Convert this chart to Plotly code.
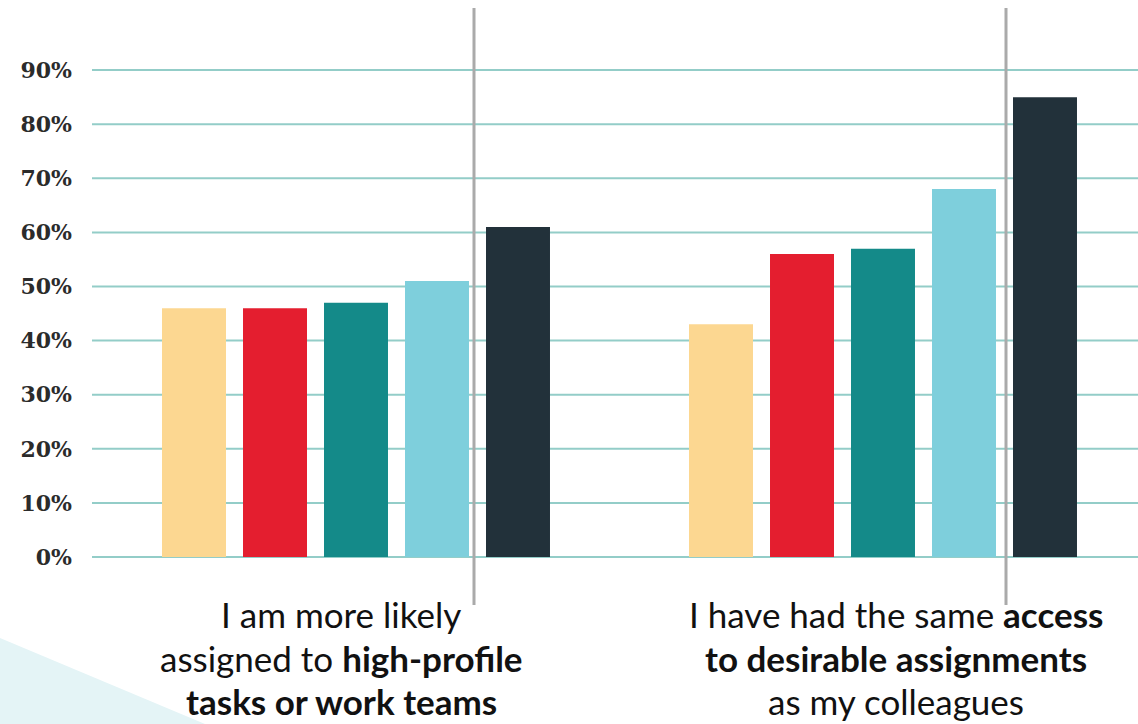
import plotly.graph_objects as go

# Survey statements (two groups) and the five respondent segments
statements = [0, 1]
segment_names = ["Segment A", "Segment B", "Segment C", "Segment D", "Segment E"]
segment_colors = ["#fcd791", "#e41e2f", "#148a89", "#7ecfdc", "#22313a"]

# Share agreeing (%) per segment, for each statement
seg_a = [46, 43]
seg_b = [46, 56]
seg_c = [47, 57]
seg_d = [51, 68]
seg_e = [61, 85]
series = [seg_a, seg_b, seg_c, seg_d, seg_e]

tick_vals = [0, 10, 20, 30, 40, 50, 60, 70, 80, 90]
tick_text = ["0%", "10%", "20%", "30%", "40%", "50%", "60%", "70%", "80%", "90%"]

label_lines = [
    ["I am more likely", "assigned to <b>high-profile</b>", "<b>tasks or work teams</b>"],
    ["I have had the same <b>access</b>", "<b>to desirable assignments</b>", "as my colleagues"],
]

fig = go.Figure()
for name, color, vals in zip(segment_names, segment_colors, series):
    fig.add_trace(go.Bar(
        x=statements, y=vals, name=name,
        marker=dict(color=color, line=dict(width=0)),
        showlegend=False, hoverinfo="skip",
    ))

W, H = 1138, 724
L, R, T, B = 92, 0, 16, 167
plot_w = W - L - R
plot_h = H - T - B
y_max = 100
unit = 527.0          # pixels per statement slot
center0 = 356.0       # pixel centre of first group

def px_to_x(px):
    return (px - center0) / unit

def py_to_paper(py):
    return (H - B - py) / plot_h

fig.update_layout(
    width=W, height=H, autosize=False, showlegend=False,
    margin=dict(l=L, r=R, t=T, b=B, pad=0, autoexpand=False),
    paper_bgcolor="white", plot_bgcolor="white",
    barmode="group", bargap=0.2315, bargroupgap=0.21,
    xaxis=dict(range=[px_to_x(L), px_to_x(W)], showticklabels=False,
               showgrid=False, zeroline=False, showline=False, fixedrange=True),
    yaxis=dict(range=[0, y_max], tickvals=tick_vals, ticktext=tick_text,
               showgrid=False, zeroline=False, showline=False, ticks="",
               ticklabelstandoff=19, fixedrange=True,
               tickfont=dict(family="DejaVu Serif", size=22, color="#2b2b2b", weight="bold")),
)

# horizontal gridlines behind the bars, running to the right edge of the page
for v in tick_vals:
    fig.add_shape(type="line", xref="paper", yref="paper", layer="between",
                  x0=0, x1=1.02, y0=v / y_max, y1=v / y_max,
                  line=dict(color="#93cdc8", width=2))

# pale wedge in the lower-left corner
x0 = (0 - L) / plot_w
x1 = (205 - L) / plot_w
fig.add_shape(type="path", xref="paper", yref="paper", layer="below",
              path=f"M {x0} {py_to_paper(638)} L {x1} {py_to_paper(724)} L {x0} {py_to_paper(724)} Z",
              fillcolor="#e4f4f6", line=dict(width=0))

# grey separators between the groups
for px in [474, 1006]:
    fig.add_shape(type="line", xref="x", yref="paper", layer="above",
                  x0=px_to_x(px), x1=px_to_x(px),
                  y0=py_to_paper(8), y1=py_to_paper(605),
                  line=dict(color="#aaaaaa", width=3))

# statement labels under each group
label_centers = [341, 896]
line_ys = [614, 658, 701]
for cx, lines in zip(label_centers, label_lines):
    for ly, txt in zip(line_ys, lines):
        fig.add_annotation(x=px_to_x(cx), xref="x", y=py_to_paper(ly), yref="paper",
                           text=txt, showarrow=False, xanchor="center", yanchor="middle",
                           font=dict(family="Lato", size=35, color="#111111"))

fig.write_html("out.html", config={"displayModeBar": False})
